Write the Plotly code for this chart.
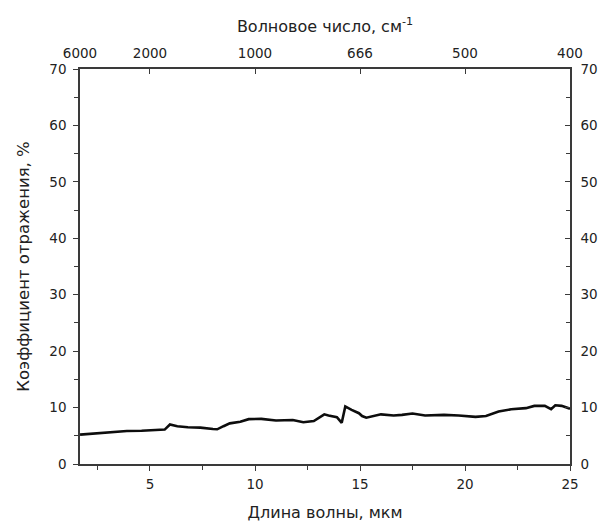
import plotly.graph_objects as go

# Reflectance spectrum: wavelength (µm) vs reflection coefficient (%)
wavelength_um = [1.67, 2.0, 2.5, 3.2, 3.9, 4.6, 5.3, 5.7, 5.95, 6.3, 6.8, 7.4, 8.0, 8.2,
                 8.5, 8.8, 9.3, 9.7, 10.3, 11.0, 11.8, 12.3, 12.8, 13.1, 13.3, 13.5,
                 13.9, 14.13, 14.2, 14.3, 14.6, 14.95, 15.1, 15.3, 16.0, 16.6, 17.0,
                 17.5, 18.1, 19.0, 19.7, 20.5, 21.0, 21.6, 22.2, 22.9, 23.3, 23.8,
                 24.1, 24.3, 24.6, 25.0]
reflectance_pct = [5.2, 5.3, 5.5, 5.7, 5.85, 5.9, 6.0, 6.1, 7.0, 6.7, 6.5, 6.45, 6.2, 6.15,
                   6.7, 7.2, 7.5, 7.95, 8.0, 7.7, 7.8, 7.4, 7.6, 8.3, 8.8, 8.6,
                   8.3, 7.3, 8.5, 10.2, 9.6, 9.0, 8.5, 8.2, 8.8, 8.6, 8.7,
                   8.95, 8.6, 8.7, 8.6, 8.35, 8.5, 9.3, 9.7, 9.9, 10.3, 10.3,
                   9.7, 10.4, 10.3, 9.8]

# Top axis: wavenumber labels placed at the matching wavelengths
wavenumber_pos_um = [1.667, 5, 10, 15, 20, 25]
wavenumber_labels = ["6000", "2000", "1000", "666", "500", "400"]

x_range = [1.667, 25]
y_range = [0, 70]

FONT = "DejaVu Sans, Arial, sans-serif"
INK = "#222222"
AXIS = "#3a3a3a"

fig = go.Figure()
fig.add_trace(go.Scatter(
    x=wavelength_um, y=reflectance_pct, mode="lines",
    line=dict(color="#0d0d0d", width=2.6),
    showlegend=False, hoverinfo="skip"))
# invisible trace to activate the secondary axes
fig.add_trace(go.Scatter(x=[x_range[0]], y=[0], xaxis="x2", yaxis="y2",
                         mode="markers", marker=dict(opacity=0),
                         showlegend=False, hoverinfo="skip"))

common = dict(showline=True, linecolor=AXIS, linewidth=1.6, showgrid=False,
              zeroline=False, tickcolor=AXIS, tickwidth=1.3, automargin=False,
              tickfont=dict(family=FONT, size=13.5, color=INK))

fig.update_layout(
    width=600, height=526,
    margin=dict(l=80, r=30, t=69, b=62),
    paper_bgcolor="white", plot_bgcolor="white",
    xaxis=dict(**common, range=x_range, tickvals=[5, 10, 15, 20, 25],
               ticks="outside", ticklen=5, ticklabelstandoff=2,
               minor=dict(tickvals=[2.5, 7.5, 12.5, 17.5, 22.5], ticks="outside",
                          ticklen=4, tickcolor=AXIS, tickwidth=1.3),
               title=dict(text="Длина волны, мкм", font=dict(family=FONT, size=16, color=INK),
                          standoff=16)),
    xaxis2=dict(**common, range=x_range, overlaying="x", side="top",
                tickvals=wavenumber_pos_um, ticktext=wavenumber_labels,
                ticks="inside", ticklen=5, ticklabelstandoff=4,
                title=dict(text="Волновое число, см<sup>-1</sup>",
                           font=dict(family=FONT, size=16, color=INK), standoff=8)),
    yaxis=dict(**common, range=y_range, tickvals=[0, 10, 20, 30, 40, 50, 60, 70],
               ticks="outside", ticklen=5, ticklabelstandoff=4,
               minor=dict(tickvals=[5, 15, 25, 35, 45, 55, 65], ticks="outside",
                          ticklen=4, tickcolor=AXIS, tickwidth=1.3),
               title=dict(text="Коэффициент отражения, %",
                          font=dict(family=FONT, size=16.5, color=INK), standoff=16)),
    yaxis2=dict(**common, range=y_range, overlaying="y", side="right",
                tickvals=[0, 10, 20, 30, 40, 50, 60, 70],
                ticks="inside", ticklen=5, ticklabelstandoff=6,
                minor=dict(tickvals=[5, 15, 25, 35, 45, 55, 65], ticks="inside",
                           ticklen=4, tickcolor=AXIS, tickwidth=1.3)),
)

fig.write_html("out.html")
